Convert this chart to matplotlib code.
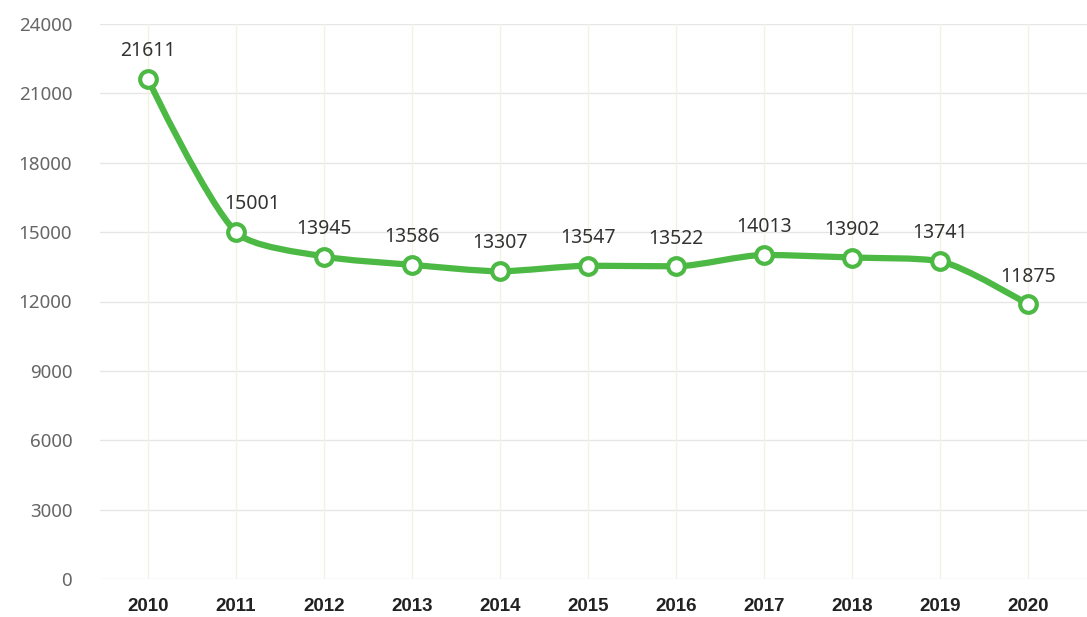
import numpy as np
import matplotlib
matplotlib.use("Agg")
import matplotlib.pyplot as plt
from matplotlib.path import Path
from matplotlib.patches import PathPatch

years = [2010, 2011, 2012, 2013, 2014, 2015, 2016, 2017, 2018, 2019, 2020]
values = [21611, 15001, 13945, 13586, 13307, 13547, 13522, 14013, 13902, 13741, 11875]
yticks = [0, 3000, 6000, 9000, 12000, 15000, 18000, 21000, 24000]

W, H = 1087, 617
fig = plt.figure(figsize=(W/100, H/100), dpi=100)
ax = fig.add_axes([100/W, (H-579)/H, (1087-100)/W, (579-24)/H])
ax.set_xlim(2010 - 48/88, 2010 + (1087-148)/88)
ax.set_ylim(0, 24000)


def smooth_path(xs, ys, smooth=0.5):
    # ECharts-style smoothing, computed in display (pixel) space
    pts = ax.transData.transform(np.column_stack([xs, ys]))
    n = len(pts)
    verts = [tuple(pts[0])]
    codes = [Path.MOVETO]
    cp0 = pts[0].copy()
    for i in range(1, n):
        x, y = pts[i]
        px, py = pts[i - 1]
        if i < n - 1:
            nx, ny = pts[i + 1]
            vx, vy = nx - px, ny - py
            lp = np.hypot(x - px, y - py)
            ln = np.hypot(nx - x, ny - y)
            r = ln / (ln + lp)
            ncx = x + vx * smooth * r
            ncy = y + vy * smooth * r
            ncx = max(min(ncx, max(nx, x)), min(nx, x))
            ncy = max(min(ncy, max(ny, y)), min(ny, y))
            vx, vy = ncx - x, ncy - y
            c1x = x - vx * lp / ln
            c1y = y - vy * lp / ln
            c1x = max(min(c1x, max(px, x)), min(px, x))
            c1y = max(min(c1y, max(py, y)), min(py, y))
            vx, vy = x - c1x, y - c1y
            ncx = x + vx * ln / lp
            ncy = y + vy * ln / lp
        else:
            c1x, c1y = x, y
            ncx, ncy = x, y
        verts += [tuple(cp0), (c1x, c1y), (x, y)]
        codes += [Path.CURVE4] * 3
        cp0 = np.array([ncx, ncy])
    data = ax.transData.inverted().transform(np.array(verts))
    return Path(data, codes)


green = "#4cb944"
ax.add_patch(PathPatch(smooth_path(years, values, smooth=0.25), facecolor="none",
                       edgecolor=green, lw=4.5, capstyle="round",
                       joinstyle="round", zorder=3))
ax.plot(years, values, linestyle="none", marker="o", ms=12, mfc="white",
        mec=green, mew=3, zorder=4)
label_dx = {2011: 12}
for x, v in zip(years, values):
    ax.annotate(str(v), (x, v), xytext=(label_dx.get(x, 0), 20),
                textcoords="offset points", ha="center", va="center",
                fontsize=14, color="#333333", family="Noto Sans")

ax.set_yticks(yticks)
ax.set_xticks(years)
ax.set_yticklabels([str(t) for t in yticks], family="Noto Sans", fontsize=13.5, color="#666666")
ax.set_xticklabels([str(y) for y in years], family="Liberation Sans", fontsize=13.5,
                   fontweight="bold", color="#222222")
ax.tick_params(axis="y", length=0, pad=20)
ax.tick_params(axis="x", length=0, pad=14)
for s in ax.spines.values():
    s.set_visible(False)
for t in yticks:
    ax.axhline(t, color="#e6e6e6", lw=1, zorder=1)
for y in years:
    ax.axvline(y, color="#f2f2e4", lw=1, zorder=1)

fig.savefig("out.png", dpi=100)
